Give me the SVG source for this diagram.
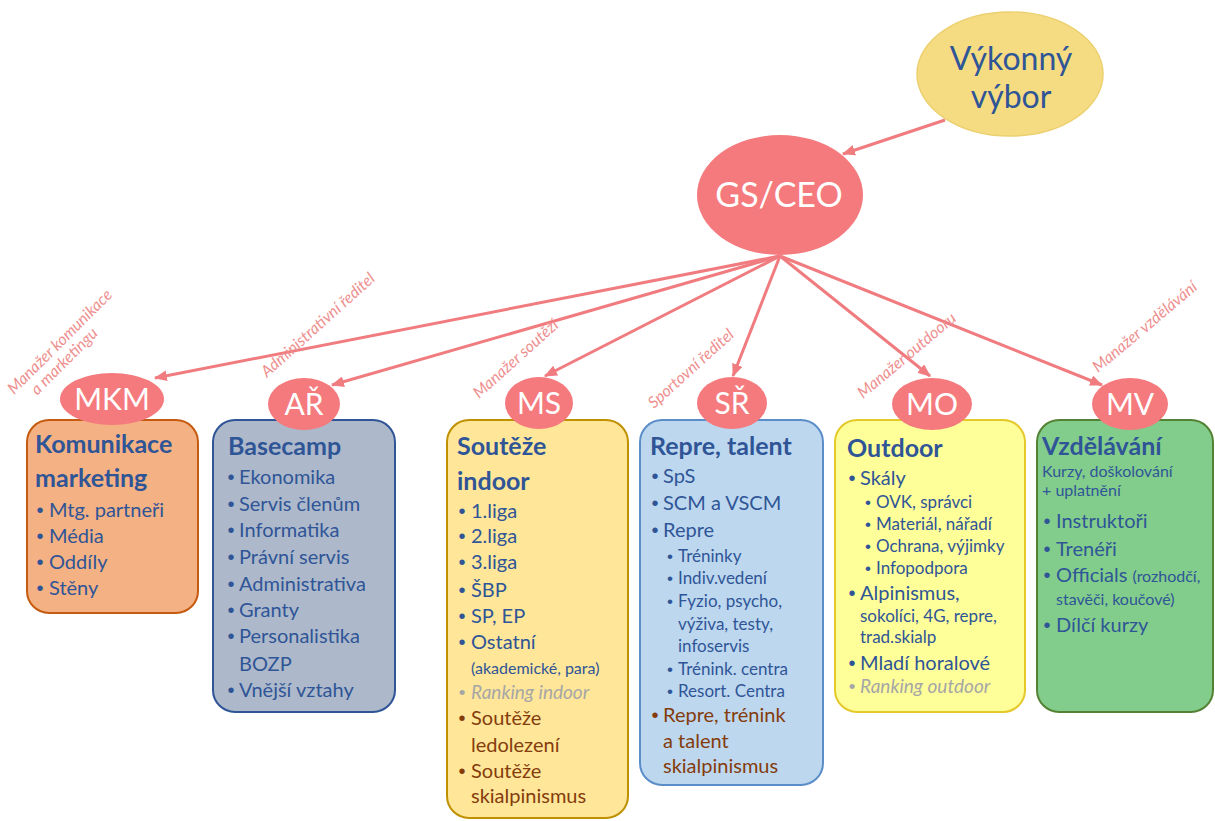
<svg xmlns="http://www.w3.org/2000/svg" width="1215" height="821" viewBox="0 0 1215 821">
<defs>
<style>
text{font-family:Lato,"Open Sans","Liberation Sans",sans-serif}
.t{font-size:25px;font-weight:bold;fill:#2f5597}
.i{font-size:20px;fill:#2f5597}
.s{font-size:17px;fill:#2f5597}
.xs{font-size:16px;fill:#2f5597}
.br{font-size:20px;fill:#843c0c}
.gr{font-size:19px;fill:#a6a6a6;font-style:italic}
text.b{text-anchor:middle;font-family:"Liberation Sans",sans-serif;font-style:normal}
.lbl{font-size:16px;font-style:italic;fill:#ee8f8f}
.w{fill:#fff;font-size:30px;text-anchor:middle}
.conn{stroke:#f07c80;stroke-width:3;fill:none;marker-end:url(#ah)}
.pink{fill:#f47a7d}
</style>
<marker id="ah" viewBox="0 0 12 10" refX="11" refY="5" markerWidth="13" markerHeight="11" markerUnits="userSpaceOnUse" orient="auto"><path d="M0,0 L12,5 L0,10 z" fill="#f07c80"/></marker>
</defs>
<rect width="1215" height="821" fill="#fff"/>

<g id="connectors">
<line class="conn" x1="945" y1="120" x2="843" y2="154"/>
<line class="conn" x1="780" y1="256" x2="155" y2="378"/>
<line class="conn" x1="780" y1="256" x2="332" y2="385"/>
<line class="conn" x1="780" y1="256" x2="545" y2="376"/>
<line class="conn" x1="780" y1="256" x2="733" y2="376"/>
<line class="conn" x1="780" y1="256" x2="930" y2="376"/>
<line class="conn" x1="780" y1="256" x2="1102" y2="385"/>
</g>

<g id="labels">
<text class="lbl" transform="translate(14,395) rotate(-45)">Manažer komunikace<tspan x="16" y="17">a marketingu</tspan></text>
<text class="lbl" transform="translate(267,378) rotate(-42)">Administrativní ředitel</text>
<text class="lbl" transform="translate(479,399) rotate(-42)">Manažer soutěží</text>
<text class="lbl" transform="translate(654,409) rotate(-42)">Sportovní ředitel</text>
<text class="lbl" transform="translate(863,399) rotate(-40)">Manažer outdooru</text>
<text class="lbl" transform="translate(1098,373) rotate(-40)">Manažer vzdělávání</text>
</g>

<g id="vv">
<ellipse cx="1010" cy="74" rx="93" ry="62" fill="#f5dc82" stroke="#ecd070" stroke-width="1.5"/>
<text x="1011" y="70" style="font-size:32px;fill:#2f5597;text-anchor:middle">Výkonný</text>
<text x="1011" y="108" style="font-size:32px;fill:#2f5597;text-anchor:middle">výbor</text>
</g>

<g id="ceo">
<ellipse class="pink" cx="780" cy="195" rx="83" ry="60"/>
<text class="w" x="779" y="207" style="font-size:34px">GS/CEO</text>
</g>

<g id="box-mkm">
<rect x="27" y="420" width="171" height="193" rx="22" fill="#f4b183" stroke="#c55a11" stroke-width="2"/>
<text class="t" x="35" y="453">Komunikace</text>
<text class="t" x="35" y="487">marketing</text>
<text class="i b" x="40" y="517">•</text><text class="i" x="49" y="517">Mtg. partneři</text>
<text class="i b" x="40" y="543">•</text><text class="i" x="49" y="543">Média</text>
<text class="i b" x="40" y="569">•</text><text class="i" x="49" y="569">Oddíly</text>
<text class="i b" x="40" y="595">•</text><text class="i" x="49" y="595">Stěny</text>
<ellipse class="pink" cx="112" cy="399" rx="52" ry="26"/>
<text class="w" x="112" y="410">MKM</text>
</g>

<g id="box-ar">
<rect x="213" y="420" width="182" height="292" rx="22" fill="#adb9ca" stroke="#2f5597" stroke-width="2"/>
<text class="t" x="228" y="455">Basecamp</text>
<text class="i b" x="231" y="484">•</text><text class="i" x="239" y="484">Ekonomika</text>
<text class="i b" x="231" y="511">•</text><text class="i" x="239" y="511">Servis členům</text>
<text class="i b" x="231" y="537">•</text><text class="i" x="239" y="537">Informatika</text>
<text class="i b" x="231" y="564">•</text><text class="i" x="239" y="564">Právní servis</text>
<text class="i b" x="231" y="591">•</text><text class="i" x="239" y="591">Administrativa</text>
<text class="i b" x="231" y="617">•</text><text class="i" x="239" y="617">Granty</text>
<text class="i b" x="231" y="643">•</text><text class="i" x="239" y="643">Personalistika</text>
<text class="i" x="239" y="671">BOZP</text>
<text class="i b" x="231" y="697">•</text><text class="i" x="239" y="697">Vnější vztahy</text>
<ellipse class="pink" cx="304" cy="404" rx="36" ry="26"/>
<text class="w" x="304" y="415">AŘ</text>
</g>

<g id="box-ms">
<rect x="447" y="420" width="181" height="398" rx="22" fill="#ffe699" stroke="#bf9000" stroke-width="2"/>
<text class="t" x="457" y="455">Soutěže</text>
<text class="t" x="457" y="490">indoor</text>
<text class="i b" x="462" y="518">•</text><text class="i" x="471" y="518">1.liga</text>
<text class="i b" x="462" y="543">•</text><text class="i" x="471" y="543">2.liga</text>
<text class="i b" x="462" y="569">•</text><text class="i" x="471" y="569">3.liga</text>
<text class="i b" x="462" y="597">•</text><text class="i" x="471" y="597">ŠBP</text>
<text class="i b" x="462" y="623">•</text><text class="i" x="471" y="623">SP, EP</text>
<text class="i b" x="462" y="649">•</text><text class="i" x="471" y="649">Ostatní</text>
<text class="xs" x="471" y="674">(akademické, para)</text>
<text class="gr b" x="462" y="699">•</text><text class="gr" x="471" y="699">Ranking indoor</text>
<text class="br b" x="462" y="725">•</text><text class="br" x="471" y="725">Soutěže</text>
<text class="br" x="471" y="752">ledolezení</text>
<text class="br b" x="462" y="778">•</text><text class="br" x="471" y="778">Soutěže</text>
<text class="br" x="471" y="803">skialpinismus</text>
<ellipse class="pink" cx="539" cy="403" rx="34" ry="26"/>
<text class="w" x="539" y="414">MS</text>
</g>

<g id="box-sr">
<rect x="640" y="420" width="183" height="365" rx="22" fill="#bdd7ee" stroke="#5b8ec9" stroke-width="2"/>
<text class="t" x="650" y="455">Repre, talent</text>
<text class="i b" x="655" y="483">•</text><text class="i" x="663" y="483">SpS</text>
<text class="i b" x="655" y="510">•</text><text class="i" x="663" y="510">SCM a VSCM</text>
<text class="i b" x="655" y="537">•</text><text class="i" x="663" y="537">Repre</text>
<text class="s b" x="670" y="562">•</text><text class="s" x="678" y="562">Tréninky</text>
<text class="s b" x="670" y="584">•</text><text class="s" x="678" y="584">Indiv.vedení</text>
<text class="s b" x="670" y="607">•</text><text class="s" x="678" y="607">Fyzio, psycho,</text>
<text class="s" x="678" y="630">výživa, testy,</text>
<text class="s" x="678" y="652">infoservis</text>
<text class="s b" x="670" y="675">•</text><text class="s" x="678" y="675">Trénink. centra</text>
<text class="s b" x="670" y="697">•</text><text class="s" x="678" y="697">Resort. Centra</text>
<text class="br b" x="655" y="722">•</text><text class="br" x="663" y="722">Repre, trénink</text>
<text class="br" x="663" y="748">a talent</text>
<text class="br" x="663" y="773">skialpinismus</text>
<ellipse class="pink" cx="732" cy="403" rx="35" ry="26"/>
<text class="w" x="732" y="414">SŘ</text>
</g>

<g id="box-mo">
<rect x="835" y="420" width="190" height="292" rx="22" fill="#ffff99" stroke="#e5c82a" stroke-width="2"/>
<text class="t" x="847" y="457">Outdoor</text>
<text class="i b" x="852" y="485">•</text><text class="i" x="860" y="485">Skály</text>
<text class="s b" x="868" y="508">•</text><text class="s" x="876" y="508">OVK, správci</text>
<text class="s b" x="868" y="530">•</text><text class="s" x="876" y="530">Materiál, nářadí</text>
<text class="s b" x="868" y="552">•</text><text class="s" x="876" y="552">Ochrana, výjimky</text>
<text class="s b" x="868" y="574">•</text><text class="s" x="876" y="574">Infopodpora</text>
<text class="i b" x="852" y="600">•</text><text class="i" x="860" y="600">Alpinismus,</text>
<text class="s" x="860" y="622">sokolíci, 4G, repre,</text>
<text class="s" x="860" y="643">trad.skialp</text>
<text class="i b" x="852" y="670">•</text><text class="i" x="860" y="670">Mladí horalové</text>
<text class="gr b" x="852" y="693">•</text><text class="gr" x="860" y="693">Ranking outdoor</text>
<ellipse class="pink" cx="932" cy="404" rx="40" ry="26"/>
<text class="w" x="932" y="415">MO</text>
</g>

<g id="box-mv">
<rect x="1037" y="420" width="176" height="292" rx="22" fill="#82cd8b" stroke="#548235" stroke-width="2"/>
<text class="t" x="1042" y="455">Vzdělávání</text>
<text class="xs" x="1042" y="477">Kurzy, doškolování</text>
<text class="xs" x="1042" y="496">+ uplatnění</text>
<text class="i b" x="1047" y="528">•</text><text class="i" x="1056" y="528">Instruktoři</text>
<text class="i b" x="1047" y="556">•</text><text class="i" x="1056" y="556">Trenéři</text>
<text class="i b" x="1047" y="582">•</text><text class="i" x="1056" y="582">Officials <tspan style="font-size:16px">(rozhodčí,</tspan></text>
<text class="xs" x="1056" y="605">stavěči, koučové)</text>
<text class="i b" x="1047" y="632">•</text><text class="i" x="1056" y="632">Dílčí kurzy</text>
<ellipse class="pink" cx="1130" cy="404" rx="38" ry="26"/>
<text class="w" x="1130" y="415">MV</text>
</g>
</svg>
